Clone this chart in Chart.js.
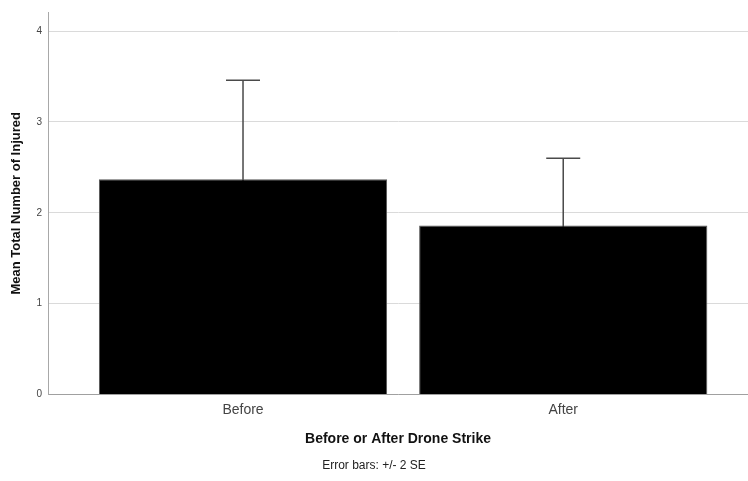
<!DOCTYPE html>
<html>
<head>
<meta charset="utf-8">
<script src="https://cdn.jsdelivr.net/npm/chart.js@4.4.0/dist/chart.umd.min.js"></script>
<style>
  html, body { margin: 0; padding: 0; background: #fff; }
  #wrap { width: 748px; height: 481px; }
</style>
</head>
<body>
<div id="wrap"><canvas id="chart"></canvas></div>
<script>
const categories = ['Before', 'After'];
const meanInjured = [2.37, 1.86];
const errorTwoSE = [1.09, 0.74];
const yTicks = [0, 1, 2, 3, 4];

// error bars drawn under the bars, so only the upper whisker shows
const errorBars = {
    id: 'errorBars',
    beforeDatasetsDraw(chart) {
        const ctx = chart.ctx;
        const xs = chart.scales.x, ys = chart.scales.y;
        ctx.save();
        ctx.strokeStyle = '#4a4a4a';
        ctx.lineWidth = 1.5;
        meanInjured.forEach(function (m, i) {
            const x = xs.getPixelForValue(i);
            const top = ys.getPixelForValue(m + errorTwoSE[i]);
            const bot = ys.getPixelForValue(m - errorTwoSE[i]);
            ctx.beginPath();
            ctx.moveTo(x, bot);
            ctx.lineTo(x, top);
            ctx.moveTo(x - 17, top);
            ctx.lineTo(x + 17, top);
            ctx.stroke();
        });
        ctx.restore();
    }
};

document.addEventListener('DOMContentLoaded', function () {
const ctx = document.getElementById('chart').getContext('2d');
new Chart(ctx, {
    type: 'bar',
    data: {
        datasets: [{
            data: meanInjured.map((v, i) => ({ x: i, y: v })),
            backgroundColor: '#000000',
            borderColor: '#555555',
            borderWidth: 1,
            categoryPercentage: 1,
            barPercentage: 0.9
        }]
    },
    options: {
        responsive: true,
        maintainAspectRatio: false,
        animation: false,
        layout: { padding: { top: 11, right: 0, left: 0, bottom: 0 } },
        font: { family: '"Liberation Sans", Arial, sans-serif' },
        scales: {
            x: {
                type: 'linear',
                offset: false,
                min: -0.609,
                max: 1.577,
                grid: { display: false, drawTicks: false },
                border: { display: true, color: '#a0a0a0', width: 1 },
                afterBuildTicks: function (scale) {
                    scale.ticks = categories.map((c, i) => ({ value: i }));
                },
                afterFit: function (scale) { scale.height = 58; },
                ticks: {
                    padding: 7,
                    color: '#444',
                    font: { family: '"Liberation Sans", Arial, sans-serif', size: 14 },
                    callback: function (v) { return categories[v]; }
                },
                title: {
                    display: true,
                    text: 'Before or After Drone Strike',
                    color: '#111',
                    padding: { top: 0, bottom: 5 },
                    font: { family: '"Liberation Sans", Arial, sans-serif', size: 14, weight: 'bold' }
                }
            },
            y: {
                min: 0,
                max: 4.21,
                grid: { color: '#dadada', lineWidth: 1, drawTicks: false },
                border: { display: true, color: '#a8a8a8', width: 1 },
                afterBuildTicks: function (scale) {
                    scale.ticks = yTicks.map(v => ({ value: v }));
                },
                afterFit: function (scale) { scale.width = 48; },
                ticks: {
                    padding: 6,
                    color: '#444',
                    font: { family: '"Liberation Sans", Arial, sans-serif', size: 10 }
                },
                title: {
                    display: true,
                    text: 'Mean Total Number of Injured',
                    color: '#111',
                    padding: { top: 9, bottom: 0 },
                    font: { family: '"Liberation Sans", Arial, sans-serif', size: 13, weight: 'bold' }
                }
            }
        },
        plugins: {
            legend: { display: false },
            tooltip: { enabled: false },
            subtitle: {
                display: true,
                position: 'bottom',
                text: 'Error bars: +/- 2 SE',
                color: '#222',
                padding: { top: 6, bottom: 8 },
                font: { family: '"Liberation Sans", Arial, sans-serif', size: 12 }
            }
        }
    },
    plugins: [errorBars]
});
});
</script>
</body>
</html>
